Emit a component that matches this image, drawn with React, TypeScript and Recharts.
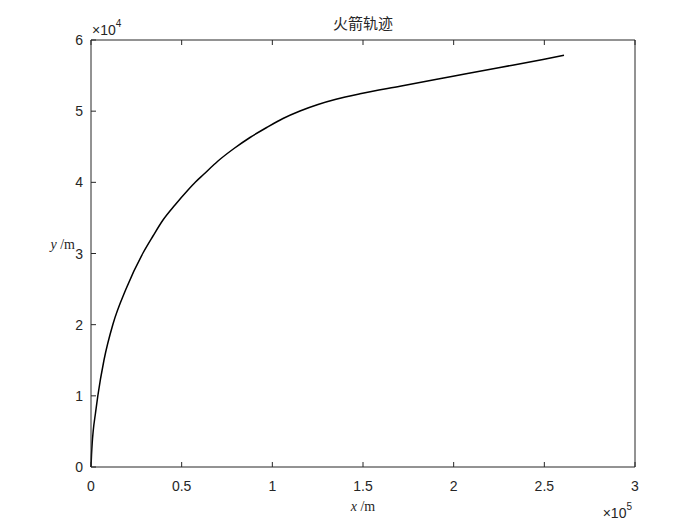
import React from 'react';
import { LineChart, Line, XAxis, YAxis } from 'recharts';

const xValues = [0, 276, 662, 1213, 2482, 3750, 7169, 12132, 19301, 28676, 34191, 39706, 46324, 53493, 57629, 62040, 70037, 78860, 87684, 96893, 105882, 115257, 125184, 135110, 148346, 170404, 199632, 225551, 249265, 260846];
const yValues = [0, 1686, 3372, 5059, 7588, 9977, 15035, 20094, 25012, 30070, 32459, 34707, 36815, 38923, 40047, 41100, 42997, 44754, 46300, 47705, 48970, 50023, 50937, 51668, 52441, 53509, 54900, 56136, 57274, 57850];

const xTicks = [0, 50000, 100000, 150000, 200000, 250000, 300000];
const xTickLabels = ['0', '0.5', '1', '1.5', '2', '2.5', '3'];
const yTicks = [0, 10000, 20000, 30000, 40000, 50000, 60000];
const yTickLabels = ['0', '1', '2', '3', '4', '5', '6'];

const titleText = '火箭轨迹';
const xExponent = '5';
const yExponent = '4';

const data = xValues.map((x, i) => ({ x, y: yValues[i] }));

const AX = '#262626';
const SANS = '"Liberation Sans", Arial, sans-serif';
const SERIF = '"Liberation Serif", "Times New Roman", serif';
const TICK = 5;

const BottomTick = (props: any) => {
  const { x, y, payload } = props;
  const idx = xTicks.indexOf(payload.value);
  return (
    <g>
      <line x1={x} y1={y} x2={x} y2={y - TICK} stroke={AX} strokeWidth={1} />
      <text x={x} y={y + 24} textAnchor="middle" fontFamily={SANS} fontSize={14} fill={AX}>
        {xTickLabels[idx]}
      </text>
    </g>
  );
};

const TopTick = (props: any) => {
  const { x, y } = props;
  return <line x1={x} y1={y} x2={x} y2={y + TICK} stroke={AX} strokeWidth={1} />;
};

const LeftTick = (props: any) => {
  const { x, y, payload } = props;
  const idx = yTicks.indexOf(payload.value);
  return (
    <g>
      <line x1={x} y1={y} x2={x + TICK} y2={y} stroke={AX} strokeWidth={1} />
      <text x={x - 8} y={y + 5} textAnchor="end" fontFamily={SANS} fontSize={14} fill={AX}>
        {yTickLabels[idx]}
      </text>
    </g>
  );
};

const RightTick = (props: any) => {
  const { x, y } = props;
  return <line x1={x} y1={y} x2={x - TICK} y2={y} stroke={AX} strokeWidth={1} />;
};

const XLabel = (props: any) => {
  const vb = props.viewBox || {};
  const cx = vb.x + vb.width / 2;
  return (
    <g>
      <text x={cx} y={vb.y + 44} textAnchor="middle" fontFamily={SERIF} fontSize={14} fill={AX}>
        <tspan fontStyle="italic">x</tspan>
        <tspan> /m</tspan>
      </text>
      <text x={vb.x + vb.width - 3} y={vb.y + 51} textAnchor="end" fontFamily={SANS} fontSize={14} fill={AX}>
        <tspan>×10</tspan>
        <tspan dy={-8} fontSize={10}>{xExponent}</tspan>
      </text>
    </g>
  );
};

const YLabel = (props: any) => {
  const vb = props.viewBox || {};
  const cy = vb.y + vb.height / 2;
  return (
    <g>
      <text x={vb.x + vb.width - 16} y={cy - 5} textAnchor="end" fontFamily={SERIF} fontSize={14} fill={AX}>
        <tspan fontStyle="italic">y</tspan>
        <tspan> /m</tspan>
      </text>
      <text x={vb.x + vb.width + 1} y={vb.y - 5} textAnchor="start" fontFamily={SANS} fontSize={14} fill={AX}>
        <tspan>×10</tspan>
        <tspan dy={-8} fontSize={10}>{yExponent}</tspan>
      </text>
    </g>
  );
};

const TitleLabel = (props: any) => {
  const vb = props.viewBox || {};
  const cx = vb.x + vb.width / 2;
  return (
    <text x={cx} y={vb.y + vb.height - 11} textAnchor="middle" fontFamily='"Noto Sans CJK SC", sans-serif' fontSize={15} fill={AX}>
      {titleText}
    </text>
  );
};

export default function App() {
  return (
    <div style={{ position: 'absolute', left: 0, top: 0, width: 700, height: 525, background: '#fff' }}>
      <LineChart
        width={700}
        height={525}
        data={data}
        margin={{ top: 39, right: 64, bottom: 0, left: 0 }}
      >
        <XAxis
          xAxisId="bottom"
          dataKey="x"
          type="number"
          domain={[0, 300000]}
          ticks={xTicks}
          orientation="bottom"
          height={58}
          tickSize={0}
          tickMargin={0}
          tickLine={false}
          axisLine={{ stroke: AX, strokeWidth: 1 }}
          tick={<BottomTick />}
          interval={0}
          label={{ content: <XLabel /> }}
        />
        <XAxis
          xAxisId="top"
          dataKey="x"
          type="number"
          domain={[0, 300000]}
          ticks={xTicks}
          orientation="top"
          height={1}
          tickSize={0}
          tickMargin={0}
          tickLine={false}
          axisLine={{ stroke: AX, strokeWidth: 1 }}
          tick={<TopTick />}
          interval={0}
          label={{ content: <TitleLabel /> }}
        />
        <YAxis
          yAxisId="left"
          type="number"
          domain={[0, 60000]}
          ticks={yTicks}
          orientation="left"
          width={91}
          tickSize={0}
          tickMargin={0}
          tickLine={false}
          axisLine={{ stroke: AX, strokeWidth: 1 }}
          tick={<LeftTick />}
          interval={0}
          label={{ content: <YLabel /> }}
        />
        <YAxis
          yAxisId="right"
          type="number"
          domain={[0, 60000]}
          ticks={yTicks}
          orientation="right"
          width={1}
          tickSize={0}
          tickMargin={0}
          tickLine={false}
          axisLine={{ stroke: AX, strokeWidth: 1 }}
          tick={<RightTick />}
          interval={0}
        />
        <Line
          xAxisId="bottom"
          yAxisId="left"
          dataKey="y"
          type="monotone"
          stroke="#000"
          strokeWidth={1.5}
          dot={false}
          activeDot={false}
          isAnimationActive={false}
        />
      </LineChart>
    </div>
  );
}
